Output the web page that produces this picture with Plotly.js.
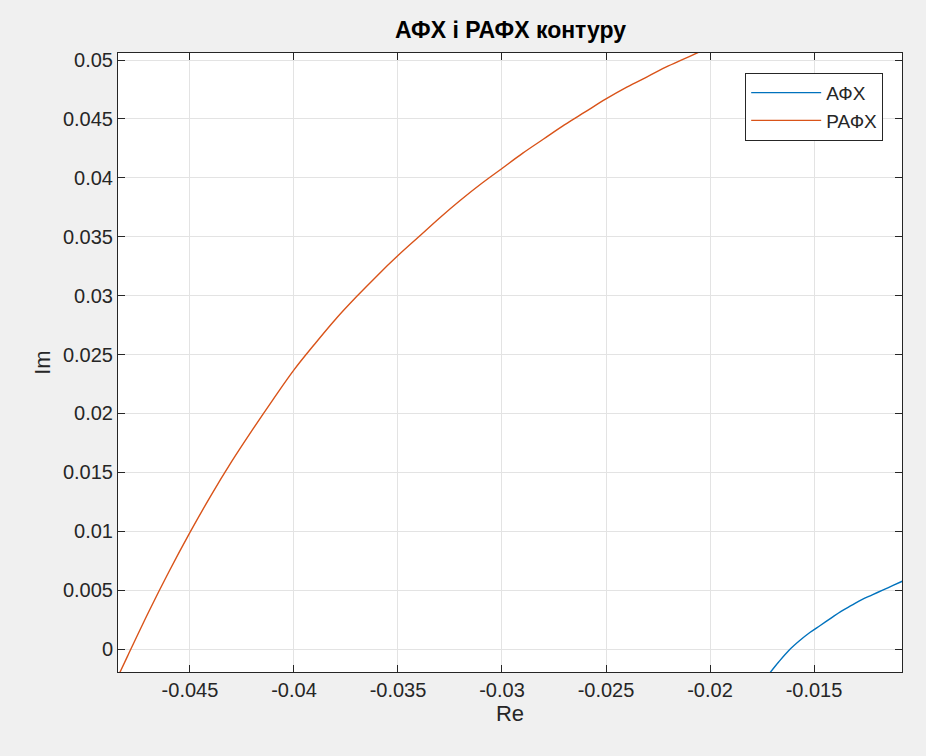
<!DOCTYPE html>
<html>
<head>
<meta charset="utf-8">
<script src="https://cdn.plot.ly/plotly-3.0.1.min.js"></script>
<style>
  html, body { margin: 0; padding: 0; background: #f0f0f0; }
  #chart { width: 926px; height: 756px; }
</style>
</head>
<body>
<div id="chart"></div>
<script>
// Frequency response (АФХ) of the contour
const afxRe = [-0.0172, -0.0167, -0.0162, -0.0157, -0.0152, -0.0147, -0.0142, -0.0137, -0.0132, -0.0127, -0.0122, -0.0117, -0.0112, -0.0107];
const afxIm = [-0.0022, -0.0011, -0.0001, 0.0007, 0.0014, 0.0020, 0.0026, 0.0032, 0.0037, 0.0042, 0.0046, 0.0050, 0.0054, 0.0058];

// Extended frequency response (РАФХ) of the contour
const rafxRe = [-0.0484, -0.048, -0.047, -0.046, -0.045, -0.044, -0.043, -0.042, -0.041, -0.040,
                -0.039, -0.038, -0.037, -0.036, -0.035, -0.034, -0.033, -0.032, -0.031, -0.030,
                -0.029, -0.028, -0.027, -0.026, -0.025, -0.024, -0.023, -0.022, -0.021, -0.020];
const rafxIm = [-0.0021, -0.0006, 0.0031, 0.0066, 0.0099, 0.0130, 0.0159, 0.0186, 0.0212, 0.0237,
                0.0259, 0.0280, 0.0299, 0.0317, 0.0334, 0.0350, 0.0366, 0.0381, 0.0395, 0.0408,
                0.0421, 0.0433, 0.0445, 0.0456, 0.0467, 0.0477, 0.0486, 0.0495, 0.0503, 0.0511];

// Axis ticks
const xTickVals = [-0.045, -0.04, -0.035, -0.03, -0.025, -0.02, -0.015];
const xTickText = ['-0.045', '-0.04', '-0.035', '-0.03', '-0.025', '-0.02', '-0.015'];
const yTickVals = [0, 0.005, 0.01, 0.015, 0.02, 0.025, 0.03, 0.035, 0.04, 0.045, 0.05];
const yTickText = ['0', '0.005', '0.01', '0.015', '0.02', '0.025', '0.03', '0.035', '0.04', '0.045', '0.05'];

const axisColor = '#262626';
const gridColor = '#e3e3e3';
const fontFamily = 'Liberation Sans, Arial, Helvetica, sans-serif';

const traces = [
  {
    x: afxRe, y: afxIm, name: 'АФХ', type: 'scatter', mode: 'lines',
    line: { color: '#0072BD', width: 1.4, shape: 'spline' }
  },
  {
    x: rafxRe, y: rafxIm, name: 'РАФХ', type: 'scatter', mode: 'lines',
    line: { color: '#D95319', width: 1.4, shape: 'spline' }
  }
];

const commonAxis = {
  showline: true, linecolor: axisColor, linewidth: 1, mirror: 'ticks',
  ticks: 'inside', ticklen: 7, tickwidth: 1, tickcolor: axisColor,
  showgrid: true, gridcolor: gridColor, gridwidth: 1, zeroline: false,
  tickfont: { family: fontFamily, size: 20, color: axisColor }
};

const layout = {
  width: 926, height: 756,
  paper_bgcolor: '#f0f0f0', plot_bgcolor: '#ffffff',
  margin: { l: 118, r: 24, t: 53, b: 84 },
  font: { family: fontFamily, color: axisColor },
  title: {
    text: '<b>АФХ і РАФХ контуру</b>',
    font: { family: fontFamily, size: 23, color: '#000000' },
    x: 0.5513, xanchor: 'center', y: 0.96, yanchor: 'middle'
  },
  xaxis: Object.assign({}, commonAxis, {
    range: [-0.04846, -0.01077], tickvals: xTickVals, ticktext: xTickText,
    title: { text: 'Re', font: { family: fontFamily, size: 22, color: axisColor }, standoff: 4 }
  }),
  yaxis: Object.assign({}, commonAxis, {
    range: [-0.00195, 0.0506], tickvals: yTickVals, ticktext: yTickText,
    title: { text: 'Im', font: { family: fontFamily, size: 22, color: axisColor }, standoff: 6 }
  }),
  showlegend: true,
  legend: {
    x: 0.976, xanchor: 'right', y: 0.968, yanchor: 'top',
    bgcolor: '#ffffff', bordercolor: axisColor, borderwidth: 1,
    font: { family: fontFamily, size: 19, color: axisColor },
    itemwidth: 70, tracegroupgap: 0
  }
};

Plotly.newPlot('chart', traces, layout, { displayModeBar: false, staticPlot: true });
</script>
</body>
</html>
